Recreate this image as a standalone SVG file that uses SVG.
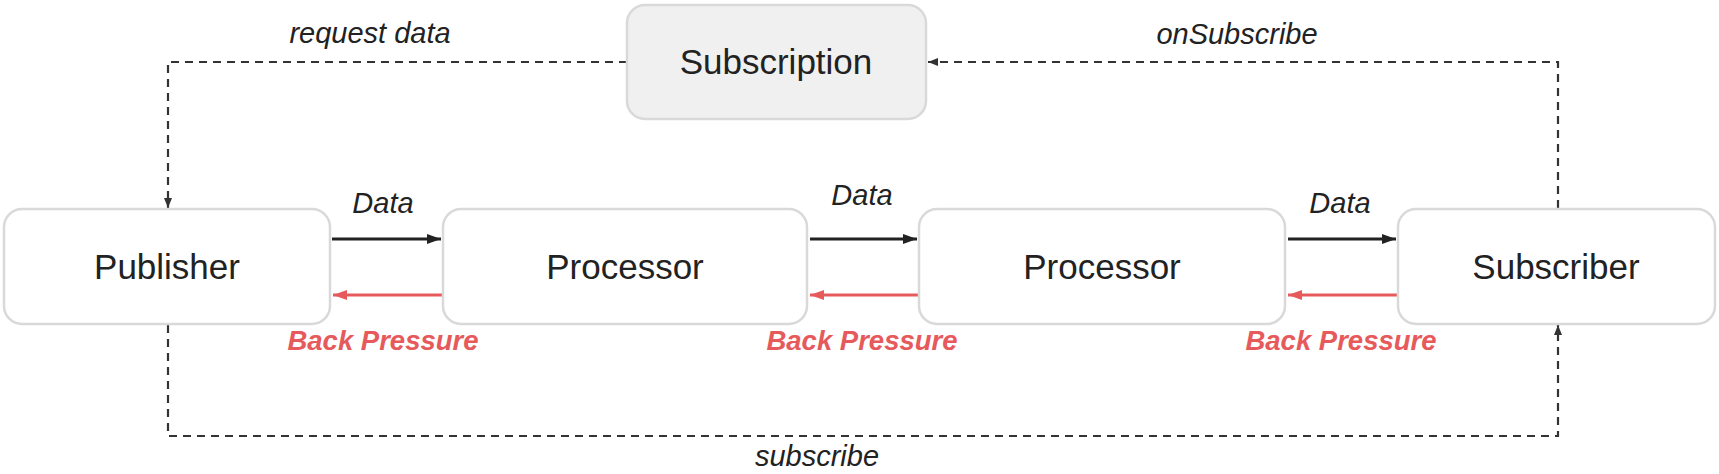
<svg xmlns="http://www.w3.org/2000/svg" width="1719" height="474" viewBox="0 0 1719 474">
<style>
.node rect{fill:#ffffff;stroke:#d9d9d9;stroke-width:2.5}
#subscription rect{fill:#f0f0f0}
.node text{font-family:"Liberation Sans",Arial,sans-serif;font-size:35px;fill:#222;text-anchor:middle}
.lbl{font-family:"Liberation Sans",Arial,sans-serif;font-size:29px;font-style:italic;fill:#222;text-anchor:middle}
.bp{font-family:"Liberation Sans",Arial,sans-serif;font-size:27.5px;font-style:italic;font-weight:bold;fill:#e65a5c;text-anchor:middle}
.dash{fill:none;stroke:#333;stroke-width:2.2;stroke-dasharray:8 6}
.data{fill:none;stroke:#222;stroke-width:2.8}
.back{fill:none;stroke:#e65a5c;stroke-width:3}
</style>
<defs>
<marker id="mDash" markerUnits="userSpaceOnUse" markerWidth="10" markerHeight="8" refX="10" refY="4" orient="auto"><path d="M0,0 L10,4 L0,8 z" fill="#333"/></marker>
<marker id="mData" markerUnits="userSpaceOnUse" markerWidth="14" markerHeight="10" refX="14" refY="5" orient="auto"><path d="M0,0 L14,5 L0,10 z" fill="#222"/></marker>
<marker id="mBack" markerUnits="userSpaceOnUse" markerWidth="14" markerHeight="10" refX="14" refY="5" orient="auto"><path d="M0,0 L14,5 L0,10 z" fill="#e65a5c"/></marker>
</defs>
<rect width="1719" height="474" fill="#ffffff"/>
<g id="connectors">
<path class="dash" d="M627,62 H168 V208" marker-end="url(#mDash)"/>
<path class="dash" d="M1558,208 V62 H928" marker-end="url(#mDash)"/>
<path class="dash" d="M168,325 V436 H1558 V325" marker-end="url(#mDash)"/>
<path class="data" d="M332,239 H441" marker-end="url(#mData)"/>
<path class="data" d="M810,239 H917" marker-end="url(#mData)"/>
<path class="data" d="M1288,239 H1396" marker-end="url(#mData)"/>
<path class="back" d="M443,295 H333" marker-end="url(#mBack)"/>
<path class="back" d="M919,295 H810" marker-end="url(#mBack)"/>
<path class="back" d="M1398,295 H1288" marker-end="url(#mBack)"/>
<text class="lbl" x="370" y="43">request data</text>
<text class="lbl" x="1237" y="44">onSubscribe</text>
<text class="lbl" x="817" y="466">subscribe</text>
<text class="lbl" x="383" y="213">Data</text>
<text class="lbl" x="862" y="205">Data</text>
<text class="lbl" x="1340" y="213">Data</text>
<text class="bp" x="383" y="350">Back Pressure</text>
<text class="bp" x="862" y="350">Back Pressure</text>
<text class="bp" x="1341" y="350">Back Pressure</text>
</g>
<g id="subscription" class="node"><rect x="627" y="5" width="299" height="114" rx="18"/><text x="776" y="74">Subscription</text></g>
<g id="publisher" class="node"><rect x="4" y="209" width="326" height="115" rx="18"/><text x="167" y="279">Publisher</text></g>
<g id="processor1" class="node"><rect x="443" y="209" width="364" height="115" rx="18"/><text x="625" y="279">Processor</text></g>
<g id="processor2" class="node"><rect x="919" y="209" width="366" height="115" rx="18"/><text x="1102" y="279">Processor</text></g>
<g id="subscriber" class="node"><rect x="1398" y="209" width="317" height="115" rx="18"/><text x="1556" y="279">Subscriber</text></g>
</svg>
